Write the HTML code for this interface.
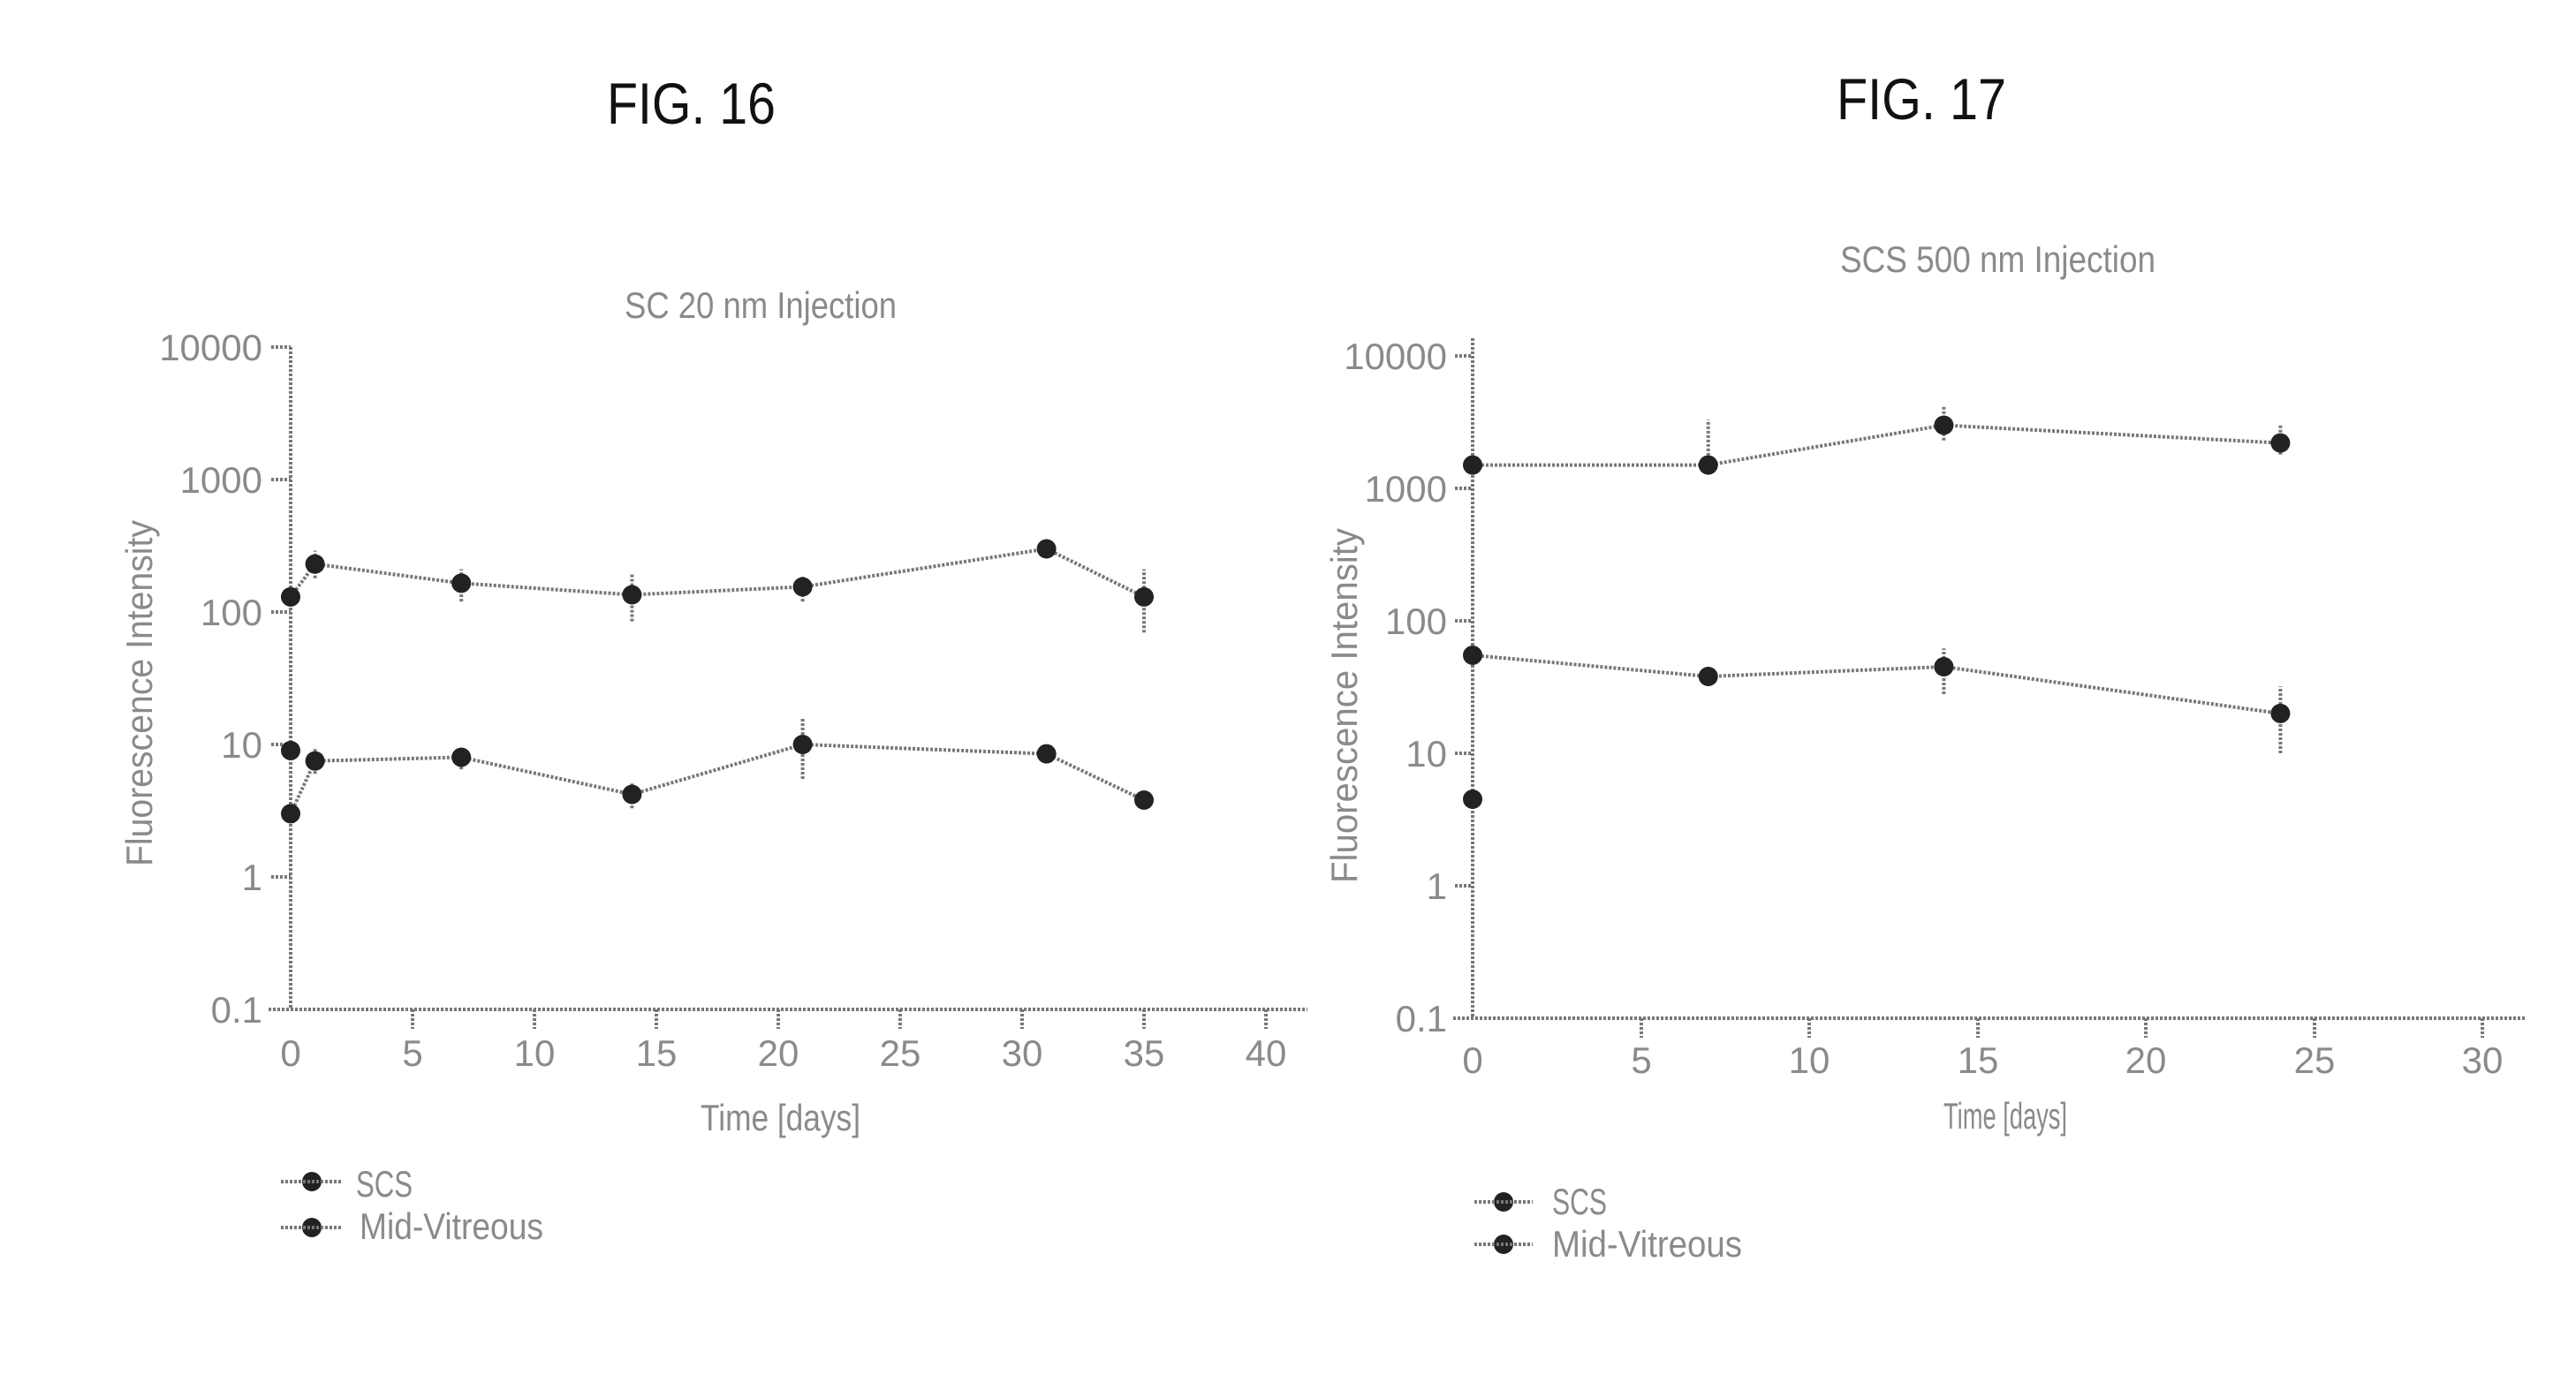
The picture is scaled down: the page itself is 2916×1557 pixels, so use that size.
<!DOCTYPE html>
<html><head><meta charset="utf-8"><style>
html,body{margin:0;padding:0;background:#fff;}
svg{display:block;}
text{font-family:"Liberation Sans",sans-serif;}
.g{fill:#8a8a8a;font-size:42px;}
.l{stroke:#777;stroke-width:4;stroke-dasharray:3 2;fill:none;}
.m{fill:#222;}
</style></head><body>
<svg width="2916" height="1557" viewBox="0 0 2916 1557" xmlns="http://www.w3.org/2000/svg">
<rect width="2916" height="1557" fill="#fff"/>
<text x="687" y="140" font-size="66" fill="#111" textLength="191" lengthAdjust="spacingAndGlyphs">FIG. 16</text>
<text x="2079" y="135" font-size="66" fill="#111" textLength="192" lengthAdjust="spacingAndGlyphs">FIG. 17</text>
<text class="g" x="707" y="360" textLength="308" lengthAdjust="spacingAndGlyphs">SC 20 nm Injection</text>
<text class="g" x="2083" y="308" textLength="357" lengthAdjust="spacingAndGlyphs">SCS 500 nm Injection</text>

<!-- FIG 16 -->
<g class="g" text-anchor="end">
<text x="297" y="408">10000</text><text x="297" y="558">1000</text><text x="297" y="708">100</text>
<text x="297" y="858">10</text><text x="297" y="1008">1</text><text x="297" y="1158">0.1</text>
</g>
<g class="g" text-anchor="middle">
<text x="329" y="1207">0</text><text x="467" y="1207">5</text><text x="605" y="1207">10</text><text x="743" y="1207">15</text>
<text x="881" y="1207">20</text><text x="1019" y="1207">25</text><text x="1157" y="1207">30</text><text x="1295" y="1207">35</text><text x="1433" y="1207">40</text>
</g>
<text class="g" x="793" y="1280" textLength="181" lengthAdjust="spacingAndGlyphs">Time [days]</text>
<text class="g" transform="translate(172,981) rotate(-90)" textLength="392" lengthAdjust="spacingAndGlyphs">Fluorescence Intensity</text>
<text class="g" x="403" y="1355" textLength="64" lengthAdjust="spacingAndGlyphs">SCS</text>
<text class="g" x="407" y="1403" textLength="208" lengthAdjust="spacingAndGlyphs">Mid-Vitreous</text>

<path class="l" d="M329 393V1143M304 1143H1480M307 393H329M307 543H329M307 693H329M307 843H329M307 993H329M467 1143v22M605 1143v22M743 1143v22M881 1143v22M1019 1143v22M1157 1143v22M1295 1143v22M1433 1143v22"/>
<path class="l" d="M329 675.9L356.6 638.7L522.2 660.4L715.4 673.5L908.6 664.5L1184.6 621.5L1295 675.9"/>
<path class="l" d="M329 921.4L356.6 861.7L522.2 857.5L715.4 899.5L908.6 843L1184.6 853.6L1295 906"/>
<path class="l" d="M356.6 654.7V623.6M522.2 681.1V644.6M715.4 703.6V649.5M908.6 681.1V651.2M1295 716.2V644.6M356.6 876.3V846.3M522.2 871.1V846.3M715.4 915.2V885.6M908.6 882V812.4"/>
<g class="m">
<circle cx="329" cy="675.9" r="11"/><circle cx="356.6" cy="638.7" r="11"/><circle cx="522.2" cy="660.4" r="11"/><circle cx="715.4" cy="673.5" r="11"/><circle cx="908.6" cy="664.5" r="11"/><circle cx="1184.6" cy="621.5" r="11"/><circle cx="1295" cy="675.9" r="11"/>
<circle cx="329" cy="921.4" r="11"/><circle cx="356.6" cy="861.7" r="11"/><circle cx="522.2" cy="857.5" r="11"/><circle cx="715.4" cy="899.5" r="11"/><circle cx="908.6" cy="843" r="11"/><circle cx="1184.6" cy="853.6" r="11"/><circle cx="1295" cy="906" r="11"/>
<circle cx="329" cy="849.9" r="11"/>
<circle cx="353" cy="1338" r="11"/><circle cx="353" cy="1390" r="11"/>
</g>
<path class="l" d="M318 1338H388M318 1390H388"/>

<!-- FIG 17 -->
<g class="g" text-anchor="end">
<text x="1638" y="418">10000</text><text x="1638" y="568">1000</text><text x="1638" y="718">100</text>
<text x="1638" y="868">10</text><text x="1638" y="1018">1</text><text x="1638" y="1168">0.1</text>
</g>
<g class="g" text-anchor="middle">
<text x="1667" y="1215">0</text><text x="1858" y="1215">5</text><text x="2048" y="1215">10</text><text x="2239" y="1215">15</text>
<text x="2429" y="1215">20</text><text x="2620" y="1215">25</text><text x="2810" y="1215">30</text>
</g>
<text class="g" x="2200" y="1278" textLength="140" lengthAdjust="spacingAndGlyphs">Time [days]</text>
<text class="g" transform="translate(1536,1000) rotate(-90)" textLength="402" lengthAdjust="spacingAndGlyphs">Fluorescence Intensity</text>
<text class="g" x="1757" y="1375" textLength="62" lengthAdjust="spacingAndGlyphs">SCS</text>
<text class="g" x="1757" y="1423" textLength="215" lengthAdjust="spacingAndGlyphs">Mid-Vitreous</text>

<path class="l" d="M1667 383V1153M1645 1153H2860M1647 403H1667M1647 553H1667M1647 703H1667M1647 853H1667M1647 1003H1667M1858 1153v22M2048 1153v22M2239 1153v22M2429 1153v22M2620 1153v22M2810 1153v22"/>
<path class="l" d="M1667 526.6L1933.7 526.6L2200.4 481.5L2581.4 501.6"/>
<path class="l" d="M1667 742L1933.7 766L2200.4 755L2581.4 807.9"/>
<path class="l" d="M1933.7 535.9V475.2M2200.4 498.7V459.5M2581.4 514.7V481.5M2200.4 786V734.2M2581.4 853V777.2"/>
<g class="m">
<circle cx="1667" cy="526.6" r="11"/><circle cx="1933.7" cy="526.6" r="11"/><circle cx="2200.4" cy="481.5" r="11"/><circle cx="2581.4" cy="501.6" r="11"/>
<circle cx="1667" cy="742" r="11"/><circle cx="1933.7" cy="766" r="11"/><circle cx="2200.4" cy="755" r="11"/><circle cx="2581.4" cy="807.9" r="11"/>
<circle cx="1667" cy="905" r="11"/>
<circle cx="1702" cy="1361" r="11"/><circle cx="1702" cy="1409" r="11"/>
</g>
<path class="l" d="M1669 1361H1735M1669 1409H1735"/>
</svg>
</body></html>
